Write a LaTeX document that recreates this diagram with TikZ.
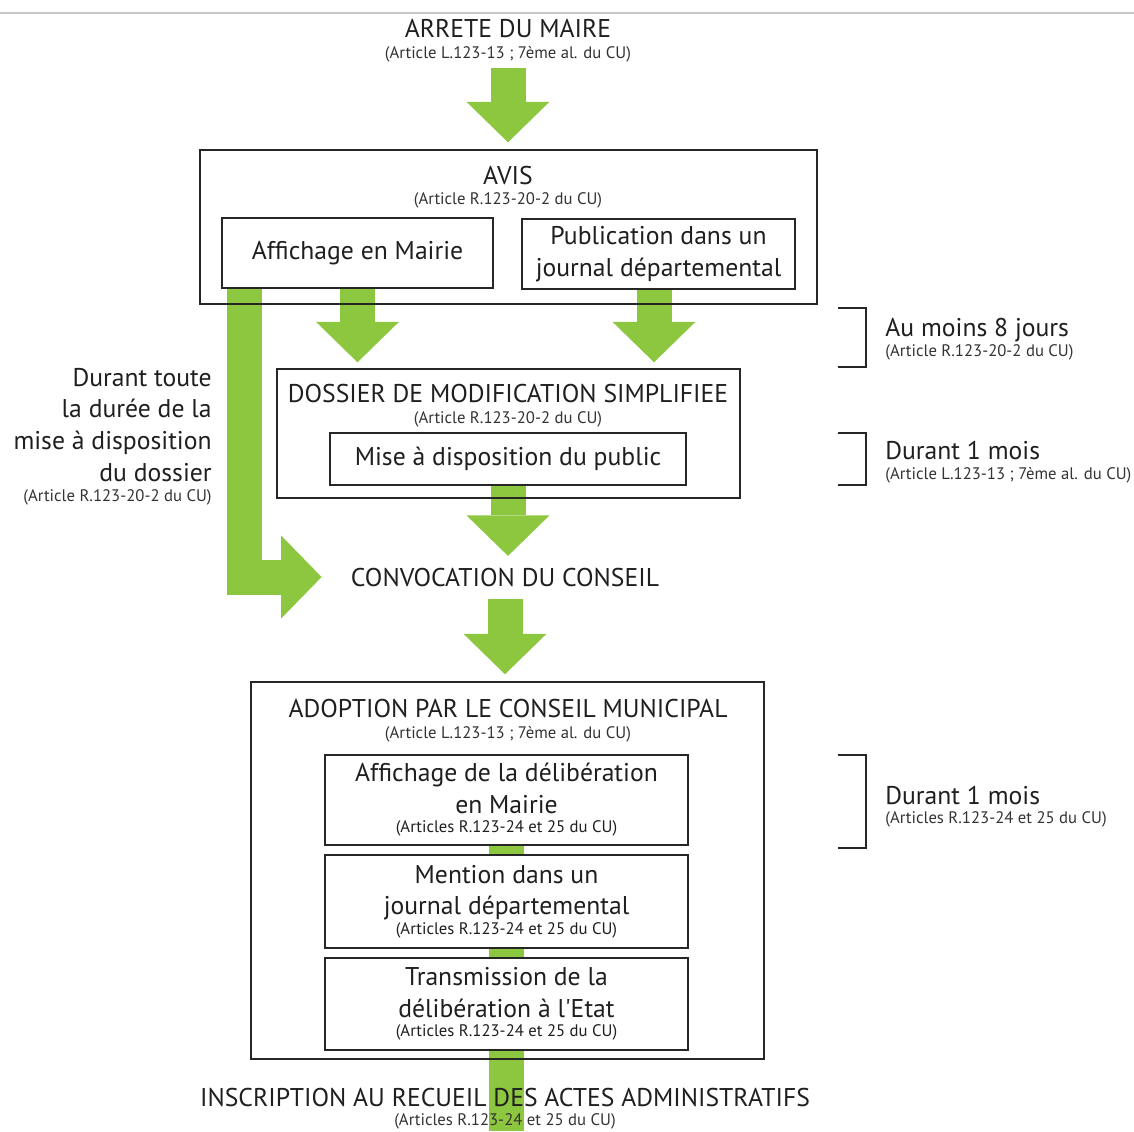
\documentclass[tikz,border=0pt]{standalone}
\usepackage{fontspec}
\setmainfont{PT Sans}
\usetikzlibrary{arrows.meta,backgrounds}
\definecolor{flowgreen}{RGB}{141,198,63}
\newcommand{\refsize}{\fontsize{9.5}{11}\selectfont}

\begin{document}
\begin{tikzpicture}[x=0.2mm, y=-0.2mm,
    titletext/.style={font=\fontsize{14.6}{18}\selectfont, inner sep=0pt, text=black!88},
    reftext/.style={font=\refsize, inner sep=0pt, text=black!80},
    outerbox/.style={draw=black!85, line width=0.8pt, inner sep=0pt},
    innerbox/.style={outerbox, fill=white, align=center, text=black!88,
                     font=\fontsize{14.6}{18}\selectfont},
    greenflow/.style={draw=flowgreen, line width=7mm,
                      -{Triangle[width=16.6mm, length=8.1mm, line width=0pt]}},
    greenbar/.style={draw=flowgreen, line width=7mm},
    sidebrace/.style={draw=black!85, line width=0.9pt}]
                \useasboundingbox (0,0) rectangle (1134,1131);
                \coordinate (pagefoot) at (0,1131);

                % Thin rule at the top
                \draw[gray!45, line width=0.8pt] (0,13) -- (1134,13);

                % Arrete du maire
                \node[titletext, anchor=base] (arrete) at (508,37) {ARRETE DU MAIRE};
                \node[reftext, anchor=base] (arreteref) at (508,58) {(Article L.123-13 ; 7ème al. du CU)};

                % Avis
                \node[outerbox, minimum width=123.4mm, minimum height=30.8mm] (avisbox) at (508.5,227) {};
                \node[titletext, anchor=base] (avis) at (508,184) {AVIS};
                \node[reftext, anchor=base] (avisref) at (508,204) {(Article R.123-20-2 du CU)};
                \node[innerbox, minimum width=54.2mm, minimum height=14mm] (affbox) at (357.5,253) {Affichage en Mairie};
                \node[innerbox, minimum width=54.6mm, minimum height=14mm] (pubbox) at (658.5,254) {Publication dans un\\journal départemental};

                % Dossier de modification simplifiee
                \node[outerbox, minimum width=92.6mm, minimum height=25.8mm] (dossbox) at (508.5,433.5) {};
                \node[titletext, anchor=base] (dossier) at (508,402) {DOSSIER DE MODIFICATION SIMPLIFIEE};
                \node[reftext, anchor=base] (dossierref) at (508,423) {(Article R.123-20-2 du CU)};
                \node[innerbox, minimum width=71.2mm, minimum height=10.4mm] (misebox) at (508,459) {Mise à disposition du public};

                % Convocation
                \node[titletext, anchor=base] (convoc) at (505,586) {CONVOCATION DU CONSEIL};

                % Adoption par le conseil municipal
                \node[outerbox, minimum width=102.6mm, minimum height=75.4mm] (adoptbox) at (507.5,870.5) {};
                \node[titletext, anchor=base] (adopt) at (508,717) {ADOPTION PAR LE CONSEIL MUNICIPAL};
                \node[reftext, anchor=base] (adoptref) at (508,738) {(Article L.123-13 ; 7ème al. du CU)};
                \node[innerbox, minimum width=72.6mm, minimum height=18mm] (delibbox) at (506.5,800)
                {Affichage de la délibération\\en Mairie\\[-7pt]{\refsize (Articles R.123-24 et 25 du CU)}};
                \node[innerbox, minimum width=72.6mm, minimum height=18.6mm] (mentbox) at (506.5,901.5)
                {Mention dans un\\journal départemental\\[-7pt]{\refsize (Articles R.123-24 et 25 du CU)}};
                \node[innerbox, minimum width=72.6mm, minimum height=18.4mm] (transbox) at (506.5,1004)
                {Transmission de la\\délibération à l\textquotesingle Etat\\[-7pt]{\refsize (Articles R.123-24 et 25 du CU)}};

                % Inscription
                \node[titletext, anchor=base] (inscr) at (505,1106) {INSCRIPTION AU RECUEIL DES ACTES ADMINISTRATIFS};
                \node[reftext, anchor=base] (inscrref) at (505,1125) {(Articles R.123-24 et 25 du CU)};

                % Left note
                \foreach \txt/\yy [count=\i] in {Durant toute/386, la durée de la/417,
                                                  mise à disposition/449, du dossier/481}
                  \node[titletext, anchor=base east] (during\i) at (212,\yy) {\txt};
                \node[reftext, anchor=base east] (duringref) at (212,501) {(Article R.123-20-2 du CU)};

                % Right notes with their braces
                \draw[sidebrace] (838,308) -- (866,308) -- (866,367) -- (838,367);
                \node[titletext, anchor=base west] (huitj) at (885,336) {Au moins 8 jours};
                \node[reftext, anchor=base west] (huitjref) at (885,356) {(Article R.123-20-2 du CU)};
                \draw[sidebrace] (838,433) -- (866,433) -- (866,485) -- (838,485);
                \node[titletext, anchor=base west] (moisa) at (885,459) {Durant 1 mois};
                \node[reftext, anchor=base west] (moisaref) at (885,479) {(Article L.123-13 ; 7ème al. du CU)};
                \draw[sidebrace] (838,755) -- (866,755) -- (866,848) -- (838,848);
                \node[titletext, anchor=base west] (moisb) at (885,804) {Durant 1 mois};
                \node[reftext, anchor=base west] (moisbref) at (885,823) {(Articles R.123-24 et 25 du CU)};

                % Green flow arrows, behind the frames
                \begin{scope}[on background layer]
                  \draw[greenflow, shorten <=1.1mm, shorten >=1.4mm] (arreteref.south) -- (arreteref.south |- avisbox.north);
                  \draw[greenflow, shorten >=1.2mm] (affbox.south) -- (affbox.south |- dossbox.north);
                  \draw[greenflow, shorten >=1.2mm] ([xshift=-0.9mm]pubbox.south) -- ([xshift=-0.9mm]pubbox.south |- dossbox.north);
                  \draw[greenflow, shorten >=2.3mm] (misebox.south) -- (misebox.south |- convoc.north);
                  \draw[greenflow, shorten <=2.4mm, shorten >=1.4mm] (convoc.south) -- (convoc.south |- adoptbox.north);
                  \draw[greenflow] ([xshift=4.7mm]affbox.south west) |- ([xshift=-5.8mm]convoc.west);
                  \draw[greenbar] (delibbox.center) -- (delibbox.center |- pagefoot);
                \end{scope}
              \end{tikzpicture}
\end{document}
